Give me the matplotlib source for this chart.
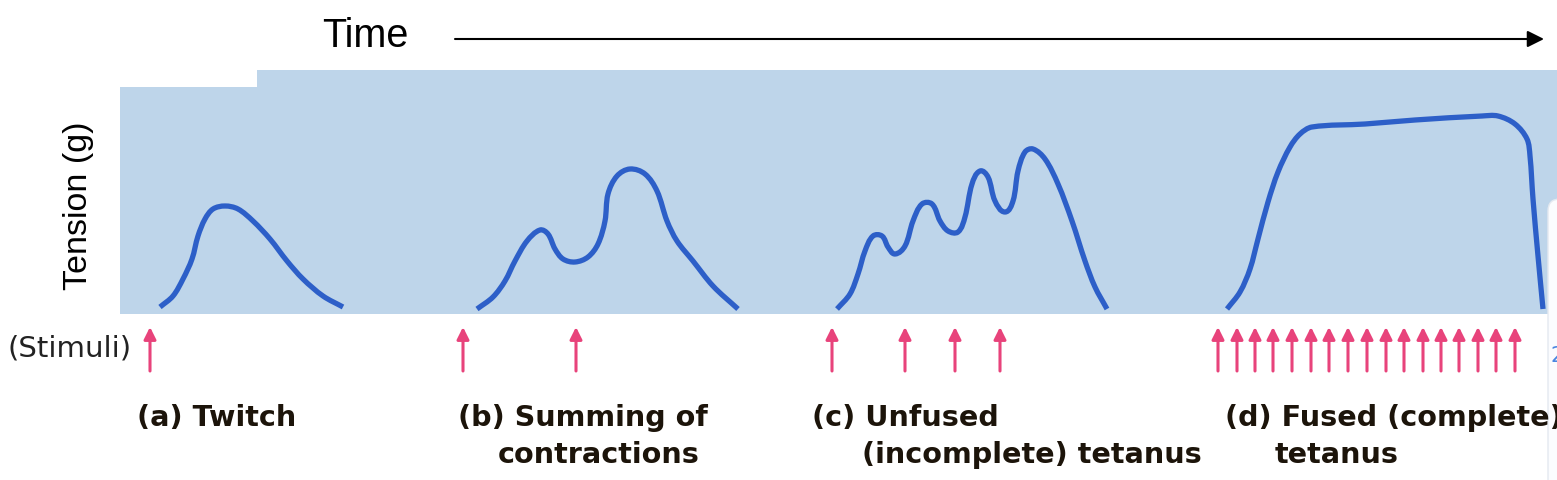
import numpy as np
import matplotlib.pyplot as plt
from matplotlib.patches import Rectangle, FancyBboxPatch, PathPatch
from matplotlib.path import Path

# figure size in pixels (dpi 100)
W, H = 1557, 481

# tension traces: time (ms from panel start) and tension (arbitrary units)
twitch_t = [40, 53, 63, 72, 78, 85, 93, 105, 118, 133, 150, 167, 183, 203, 223]
twitch_y = [7, 18, 35, 55, 78, 95, 105, 108, 105, 93, 75, 53, 35, 18, 7]

summing_t = [357, 373, 385, 395, 407, 420, 428, 435, 443, 455, 468, 478, 485, 488,
             497, 510, 525, 537, 547, 557, 573, 593, 618]
summing_y = [5, 17, 33, 53, 73, 84, 80, 65, 55, 52, 57, 70, 93, 120,
             138, 145, 140, 123, 93, 73, 53, 28, 5]

unfused_t = [717, 730, 738, 745, 753, 762, 768, 775, 785, 793, 802, 812, 820, 828,
             838, 845, 852, 860, 868, 875, 885, 893, 898, 905, 913, 925, 938, 952,
             965, 975, 987]
unfused_y = [5, 20, 40, 63, 78, 78, 67, 60, 68, 93, 110, 110, 93, 83,
             82, 97, 130, 143, 137, 113, 102, 113, 143, 162, 165, 155, 130, 93,
             53, 27, 5]

fused_t = [1107, 1120, 1130, 1138, 1148, 1158, 1170, 1180, 1192, 1245, 1295, 1362,
           1378, 1395, 1407, 1410, 1413, 1418, 1423]
fused_y = [5, 22, 45, 75, 112, 142, 167, 180, 187, 190, 194, 198,
           198, 190, 175, 158, 115, 58, 5]

# stimulus times
stim_a = [30]
stim_b = [343, 456]
stim_c = [712, 785, 835, 880]
stim_d = [1098, 1117, 1135, 1153, 1172, 1191, 1209, 1228, 1247, 1266, 1284,
          1303, 1321, 1339, 1358, 1376, 1395]

labels = [("(a) Twitch", None),
          ("(b) Summing of", "contractions"),
          ("(c) Unfused", "(incomplete) tetanus"),
          ("(d) Fused (complete)", "tetanus")]

BG = '#bed5ea'
CURVE = '#2d5fc8'
PINK = '#e8437b'


def fx(x):
    return x / W


def fy(y):
    return 1 - y / H


def smooth_path(t, y):
    # bezier path through the read points; handle length follows segment length
    p = np.column_stack([t, y]).astype(float)
    n = len(p)
    tang = np.zeros_like(p)
    for i in range(n):
        a = p[max(i - 1, 0)]
        b = p[min(i + 1, n - 1)]
        d = b - a
        tang[i] = d / np.hypot(*d)
    verts = [p[0]]
    codes = [Path.MOVETO]
    for i in range(n - 1):
        L = np.hypot(*(p[i + 1] - p[i])) / 3
        verts += [p[i] + tang[i] * L, p[i + 1] - tang[i + 1] * L, p[i + 1]]
        codes += [Path.CURVE4] * 3
    return Path(verts, codes)


fig = plt.figure(figsize=(W / 100, H / 100), dpi=100)

ax = fig.add_axes([120 / W, 166 / H, 1437 / W, 244 / H])
ax.set_xlim(0, 1437)
ax.set_ylim(0, 244)
ax.axis('off')

# blue panel with the small step at top left
ax.add_patch(Rectangle((0, 0), 137, 227, facecolor=BG, edgecolor='none', zorder=0))
ax.add_patch(Rectangle((137, 0), 1300, 244, facecolor=BG, edgecolor='none', zorder=0))

for t, y in [(twitch_t, twitch_y), (summing_t, summing_y),
             (unfused_t, unfused_y), (fused_t, fused_y)]:
    ax.add_patch(PathPatch(smooth_path(t, y), fill=False, edgecolor=CURVE,
                           lw=3.8, capstyle='butt', joinstyle='round', zorder=3))

for t in stim_a + stim_b + stim_c + stim_d:
    ax.annotate('', xy=(t, -13), xytext=(t, -57), annotation_clip=False,
                arrowprops=dict(arrowstyle='-|>', color=PINK, lw=2.2,
                                mutation_scale=18, shrinkA=0, shrinkB=0))

# white box cut off at the right edge
ax.add_patch(FancyBboxPatch((1428, -250), 80, 365,
                            boxstyle='round,pad=0,rounding_size=12',
                            facecolor='#fbfcfe', edgecolor='#e4e9f0', lw=1,
                            clip_on=False, zorder=5))
fig.text(fx(1551), fy(356), '2', color='#4a86e0', fontsize=15,
         ha='left', va='center', zorder=6)

# time arrow
fig.text(fx(322), fy(36), 'Time', fontsize=28.5, family='Liberation Sans',
         ha='left', va='center')
ax.annotate('', xy=(fx(1544), fy(40)), xytext=(fx(455), fy(40)),
            xycoords='figure fraction', textcoords='figure fraction',
            annotation_clip=False,
            arrowprops=dict(arrowstyle='-|>', color='black', lw=1.5,
                            mutation_scale=25, shrinkA=0, shrinkB=0))

fig.text(fx(78), fy(206), 'Tension (g)', fontsize=24.5, family='Liberation Sans',
         rotation=90, ha='center', va='center')
fig.text(fx(8), fy(349), '(Stimuli)', fontsize=21, ha='left', va='center',
         color='#222222')

label_x = [137, 458, 812, 1225]
second_x = [None, 498, 862, 1275]
for (l1, l2), x1, x2 in zip(labels, label_x, second_x):
    fig.text(fx(x1), fy(418), l1, fontsize=20.6, fontweight='bold',
             color='#1c140a', ha='left', va='center')
    if l2:
        fig.text(fx(x2), fy(455), l2, fontsize=20.6, fontweight='bold',
                 color='#1c140a', ha='left', va='center')

fig.savefig('out.png', dpi=100)
